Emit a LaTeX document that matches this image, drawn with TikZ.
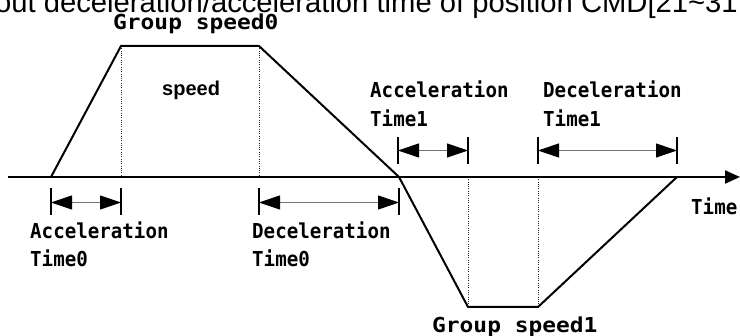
\documentclass[tikz,border=0pt]{standalone}
\usepackage{fontspec}
\setmainfont{Liberation Sans}
\newfontfamily\lblfont[FakeStretch=0.93]{DejaVu Sans Mono}
\newfontfamily\grpfont[FakeStretch=1.11]{DejaVu Sans Mono}
\usetikzlibrary{arrows.meta}
\tikzset{
  lbl/.style={anchor=base west, inner sep=0pt, font=\lblfont\bfseries\fontsize{20.6}{24}\selectfont},
  grp/.style={anchor=base west, inner sep=0pt, font=\grpfont\bfseries\fontsize{20.6}{24}\selectfont},
  profile/.style={line width=2pt, line join=miter},
  axisline/.style={line width=2pt, -{Triangle[length=15pt,width=13pt]}},
  guide/.style={line width=0.9pt, black!85, dash pattern=on 1pt off 1.3pt},
  tickline/.style={line width=1.5pt},
  dimarrow/.style={line width=1pt, black!55, {Triangle[length=21pt,width=14pt,color=black]}-{Triangle[length=21pt,width=14pt,color=black]}}
}
\begin{document}
\begin{tikzpicture}[x=1pt,y=-1pt]
\useasboundingbox (0,0) rectangle (740,336);
\clip (0,0) rectangle (740,336);
% header (clipped at the top edge, as in the reference)
\node[anchor=base west, inner sep=0pt, font=\fontsize{29.2}{30}\selectfont] (hdr) at (-5,12.4) {out deceleration/acceleration time of position CMD[21\textasciitilde 31};
% key points
\coordinate (a0) at (8,177);
\coordinate (aend) at (740,177);
\coordinate (p1) at (51,177);
\coordinate (p2) at (121,46);
\coordinate (p3) at (259,46);
\coordinate (p4) at (399,177);
\coordinate (p5) at (468,307);
\coordinate (p6) at (538,307);
\coordinate (p7) at (677,177);
\coordinate (q2) at (121,177);
\coordinate (q3) at (259,177);
\coordinate (q5) at (468,177);
\coordinate (q6) at (538,177);
% guides
\draw[guide] (p2) -- (q2);
\draw[guide] (p3) -- (q3);
\draw[guide] (q5) -- (p5);
\draw[guide] (q6) -- (p6);
% axis
\draw[axisline] (a0) -- (aend);
% profile
\draw[profile] (p1) -- (p2) -- (p3) -- (p4) -- (p5) -- (p6) -- (p7);
% dimension ticks and arrows (below axis)
\coordinate (t1a) at (51,188);  \coordinate (t1b) at (51,215);
\coordinate (t2a) at (121,188); \coordinate (t2b) at (121,215);
\coordinate (t3a) at (259,188); \coordinate (t3b) at (259,215);
\coordinate (t4a) at (399,188); \coordinate (t4b) at (399,215);
\draw[tickline] (t1a) -- (t1b);
\draw[tickline] (t2a) -- (t2b);
\draw[tickline] (t3a) -- (t3b);
\draw[tickline] (t4a) -- (t4b);
\coordinate (d1a) at (51,202.5);  \coordinate (d1b) at (121,202.5);
\coordinate (d2a) at (259,202.5); \coordinate (d2b) at (399,202.5);
\draw[dimarrow] (d1a) -- (d1b);
\draw[dimarrow] (d2a) -- (d2b);
% dimension ticks and arrows (above axis)
\coordinate (u1a) at (398,137); \coordinate (u1b) at (398,164);
\coordinate (u2a) at (468,137); \coordinate (u2b) at (468,164);
\coordinate (u3a) at (538,137); \coordinate (u3b) at (538,164);
\coordinate (u4a) at (677,137); \coordinate (u4b) at (677,164);
\draw[tickline] (u1a) -- (u1b);
\draw[tickline] (u2a) -- (u2b);
\draw[tickline] (u3a) -- (u3b);
\draw[tickline] (u4a) -- (u4b);
\coordinate (e1a) at (398,150.5); \coordinate (e1b) at (468,150.5);
\coordinate (e2a) at (538,150.5); \coordinate (e2b) at (677,150.5);
\draw[dimarrow] (e1a) -- (e1b);
\draw[dimarrow] (e2a) -- (e2b);
% labels
\node[grp] (gs0) at (113,30) {Group speed0};
\node[grp] (gs1) at (432,333) {Group speed1};
\node[anchor=base west, inner sep=0pt, font=\bfseries\fontsize{20}{24}\selectfont] (spd) at (162,96) {speed};
\node[lbl] (at0a) at (30,238.5) {Acceleration};
\node[lbl] (at0b) at (30,267) {Time0};
\node[lbl] (dt0a) at (252,238.5) {Deceleration};
\node[lbl] (dt0b) at (252,267) {Time0};
\node[lbl] (at1a) at (370,98) {Acceleration};
\node[lbl] (at1b) at (370,126.5) {Time1};
\node[lbl] (dt1a) at (543,98) {Deceleration};
\node[lbl] (dt1b) at (543,126.5) {Time1};
\node[lbl] (tm) at (691,215) {Time};
\end{tikzpicture}
\end{document}
